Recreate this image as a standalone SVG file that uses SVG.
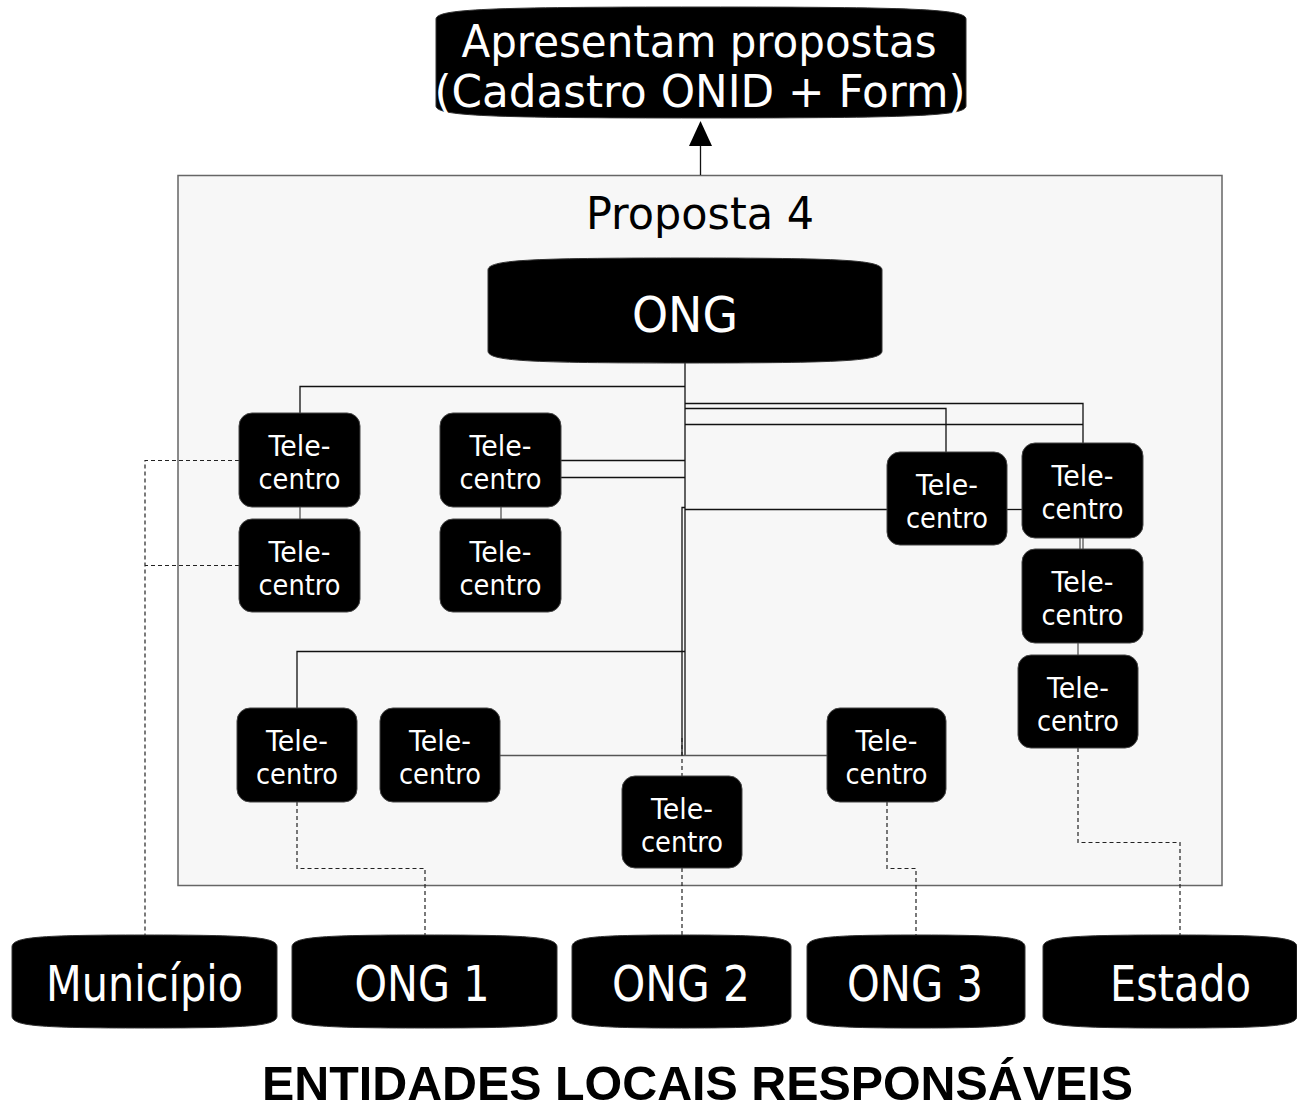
<svg xmlns="http://www.w3.org/2000/svg" width="1297" height="1110" viewBox="0 0 1297 1110">
<style>
.term{fill:#000;stroke:#333;stroke-width:1}
.tc{fill:#000;stroke:#444;stroke-width:1}
.wt{fill:#fff;font-family:"DejaVu Sans",Verdana,sans-serif;text-anchor:middle}
.tl{font-size:28px}
.big{font-size:50px}
.top{font-size:44px}
.ln{fill:none;stroke:#111;stroke-width:1.3}
.lg{fill:none;stroke:#555;stroke-width:1.3}
.dl{fill:none;stroke:#222;stroke-width:1.2;stroke-dasharray:4 3}
</style>
<rect width="1297" height="1110" fill="#fff"/>
<g id="panel">
<rect x="178" y="175.5" width="1044" height="710" fill="#f7f7f7" stroke="#666" stroke-width="1.5"/>
<text x="700" y="229" font-family="DejaVu Sans,Verdana,sans-serif" font-size="44" text-anchor="middle" textLength="228" lengthAdjust="spacingAndGlyphs" fill="#000">Proposta 4</text>
</g>
<g id="connectors">
<path class="ln" d="M700.5,175 V145"/>
<polygon points="700.5,121 689,146 712,146" fill="#000"/>
<path class="ln" d="M685,363 V755"/>
<path class="ln" d="M685,386.5 H300 V413"/>
<path class="lg" d="M300,507 V519"/>
<path class="lg" d="M501,507 V519"/>
<path class="ln" d="M685,403.5 H1083 V443"/>
<path class="ln" d="M685,408.5 H946 V452"/>
<path class="ln" d="M685,424.5 H1083"/>
<path class="ln" d="M561,460.5 H685"/>
<path class="ln" d="M561,477.5 H685"/>
<path class="ln" d="M682,755 V507.5 H685"/>
<path class="ln" d="M685,509.5 H887"/>
<path class="ln" d="M1007,509.5 H1022"/>
<path class="lg" d="M1080,538 V549"/>
<path class="lg" d="M1083,538 V549"/>
<path class="lg" d="M1078,643 V655"/>
<path class="ln" d="M685,651.5 H297 V708"/>
<path class="lg" d="M500,755.5 H827"/>
<path class="dl" d="M239,460.5 H145 V935"/>
<path class="dl" d="M239,565.5 H145"/>
<path class="dl" d="M297,802 V868.5 H425 V935"/>
<path class="dl" d="M682,738 V776"/>
<path class="dl" d="M682,868 V935"/>
<path class="dl" d="M887,802 V868.5 H916 V935"/>
<path class="dl" d="M1078,748 V842.5 H1180 V935"/>
</g>
<g id="apresentam">
<path class="term" d="M436,19 C436,9 489,7 701,7 C913,7 966,9 966,19 V106 C966,116 913,118 701,118 C489,118 436,116 436,106 Z"/>
<text class="wt top" x="699" y="57" textLength="475" lengthAdjust="spacingAndGlyphs">Apresentam propostas</text>
<text class="wt top" x="700" y="107" textLength="531" lengthAdjust="spacingAndGlyphs">(Cadastro ONID + Form)</text>
</g>
<g id="ong">
<path class="term" d="M488,270 C488,260 527,258 685,258 C843,258 882,260 882,270 V351 C882,361 843,363 685,363 C527,363 488,361 488,351 Z"/>
<text class="wt big" x="685" y="332" textLength="106" lengthAdjust="spacingAndGlyphs">ONG</text>
</g>
<g id="tc1"><rect class="tc" x="239" y="413" width="121" height="94" rx="13"/><text class="wt tl" x="299.5" y="456" textLength="62" lengthAdjust="spacingAndGlyphs">Tele-</text><text class="wt tl" x="299.5" y="489" textLength="82" lengthAdjust="spacingAndGlyphs">centro</text></g>
<g id="tc2"><rect class="tc" x="239" y="519" width="121" height="93" rx="13"/><text class="wt tl" x="299.5" y="562" textLength="62" lengthAdjust="spacingAndGlyphs">Tele-</text><text class="wt tl" x="299.5" y="595" textLength="82" lengthAdjust="spacingAndGlyphs">centro</text></g>
<g id="tc3"><rect class="tc" x="440" y="413" width="121" height="94" rx="13"/><text class="wt tl" x="500.5" y="456" textLength="62" lengthAdjust="spacingAndGlyphs">Tele-</text><text class="wt tl" x="500.5" y="489" textLength="82" lengthAdjust="spacingAndGlyphs">centro</text></g>
<g id="tc4"><rect class="tc" x="440" y="519" width="121" height="93" rx="13"/><text class="wt tl" x="500.5" y="562" textLength="62" lengthAdjust="spacingAndGlyphs">Tele-</text><text class="wt tl" x="500.5" y="595" textLength="82" lengthAdjust="spacingAndGlyphs">centro</text></g>
<g id="tc5"><rect class="tc" x="887" y="452" width="120" height="93" rx="13"/><text class="wt tl" x="947" y="495" textLength="62" lengthAdjust="spacingAndGlyphs">Tele-</text><text class="wt tl" x="947" y="528" textLength="82" lengthAdjust="spacingAndGlyphs">centro</text></g>
<g id="tc6"><rect class="tc" x="1022" y="443" width="121" height="95" rx="13"/><text class="wt tl" x="1082.5" y="486" textLength="62" lengthAdjust="spacingAndGlyphs">Tele-</text><text class="wt tl" x="1082.5" y="519" textLength="82" lengthAdjust="spacingAndGlyphs">centro</text></g>
<g id="tc7"><rect class="tc" x="1022" y="549" width="121" height="94" rx="13"/><text class="wt tl" x="1082.5" y="592" textLength="62" lengthAdjust="spacingAndGlyphs">Tele-</text><text class="wt tl" x="1082.5" y="625" textLength="82" lengthAdjust="spacingAndGlyphs">centro</text></g>
<g id="tc8"><rect class="tc" x="1018" y="655" width="120" height="93" rx="13"/><text class="wt tl" x="1078" y="698" textLength="62" lengthAdjust="spacingAndGlyphs">Tele-</text><text class="wt tl" x="1078" y="731" textLength="82" lengthAdjust="spacingAndGlyphs">centro</text></g>
<g id="tc9"><rect class="tc" x="237" y="708" width="120" height="94" rx="13"/><text class="wt tl" x="297" y="751" textLength="62" lengthAdjust="spacingAndGlyphs">Tele-</text><text class="wt tl" x="297" y="784" textLength="82" lengthAdjust="spacingAndGlyphs">centro</text></g>
<g id="tc10"><rect class="tc" x="380" y="708" width="120" height="94" rx="13"/><text class="wt tl" x="440" y="751" textLength="62" lengthAdjust="spacingAndGlyphs">Tele-</text><text class="wt tl" x="440" y="784" textLength="82" lengthAdjust="spacingAndGlyphs">centro</text></g>
<g id="tc11"><rect class="tc" x="827" y="708" width="119" height="94" rx="13"/><text class="wt tl" x="886.5" y="751" textLength="62" lengthAdjust="spacingAndGlyphs">Tele-</text><text class="wt tl" x="886.5" y="784" textLength="82" lengthAdjust="spacingAndGlyphs">centro</text></g>
<g id="tc12"><rect class="tc" x="622" y="776" width="120" height="92" rx="13"/><text class="wt tl" x="682" y="819" textLength="62" lengthAdjust="spacingAndGlyphs">Tele-</text><text class="wt tl" x="682" y="852" textLength="82" lengthAdjust="spacingAndGlyphs">centro</text></g>
<g id="municipio">
<path class="term" d="M12,947 C12,937 38.5,935 144.5,935 C250.5,935 277,937 277,947 V1016 C277,1026 250.5,1028 144.5,1028 C38.5,1028 12,1026 12,1016 Z"/>
<text class="wt big" x="144.5" y="1001" textLength="197" lengthAdjust="spacingAndGlyphs">Município</text>
</g>
<g id="ong1">
<path class="term" d="M292,947 C292,937 318.5,935 424.5,935 C530.5,935 557,937 557,947 V1016 C557,1026 530.5,1028 424.5,1028 C318.5,1028 292,1026 292,1016 Z"/>
<text class="wt big" x="422" y="1001" textLength="135" lengthAdjust="spacingAndGlyphs">ONG 1</text>
</g>
<g id="ong2">
<path class="term" d="M572,947 C572,937 594,935 681.5,935 C769,935 791,937 791,947 V1016 C791,1026 769,1028 681.5,1028 C594,1028 572,1026 572,1016 Z"/>
<text class="wt big" x="681" y="1001" textLength="138" lengthAdjust="spacingAndGlyphs">ONG 2</text>
</g>
<g id="ong3">
<path class="term" d="M807,947 C807,937 829,935 916,935 C1003,935 1025,937 1025,947 V1016 C1025,1026 1003,1028 916,1028 C829,1028 807,1026 807,1016 Z"/>
<text class="wt big" x="915" y="1001" textLength="136" lengthAdjust="spacingAndGlyphs">ONG 3</text>
</g>
<g id="estado">
<path class="term" d="M1043,947 C1043,937 1068,935 1170,935 C1272,935 1297,937 1297,947 V1016 C1297,1026 1272,1028 1170,1028 C1068,1028 1043,1026 1043,1016 Z"/>
<text class="wt big" x="1180.5" y="1001" textLength="141" lengthAdjust="spacingAndGlyphs">Estado</text>
</g>
<g id="title">
<text x="697.5" y="1100" font-family="Liberation Sans,Arial,sans-serif" font-weight="bold" font-size="48" text-anchor="middle" textLength="871" lengthAdjust="spacingAndGlyphs" fill="#000">ENTIDADES LOCAIS RESPONSÁVEIS</text>
</g>
</svg>
